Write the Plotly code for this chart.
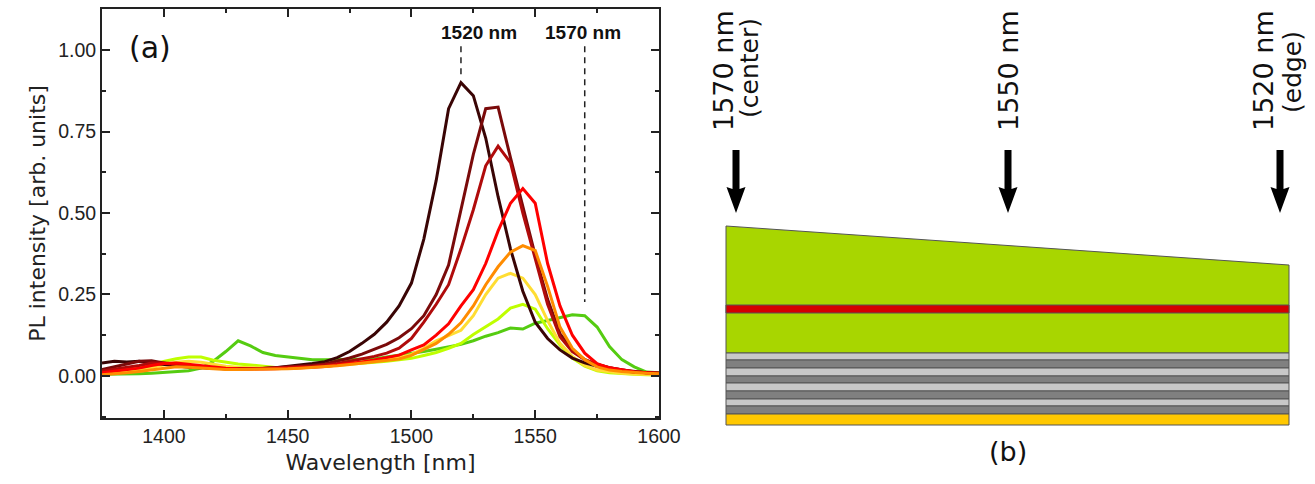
import plotly.graph_objects as go

wavelength = list(range(1375, 1605, 5))

pl_1520 = [.040,.045,.043,.045,.040,.035,.030,.027,.025,.023,.022,.022,.022,.023,.025,.029,.033,.038,.044,.056,.075,.100,.128,.165,.215,.285,.420,.600,.820,.900,.860,.730,.550,.390,.260,.165,.115,.080,.055,.040,.030,.022,.016,.012,.010,.008]
pl_1533 = [.020,.028,.035,.045,.047,.040,.033,.029,.026,.024,.022,.022,.022,.023,.025,.027,.030,.033,.037,.045,.055,.067,.082,.097,.117,.145,.185,.250,.340,.510,.680,.820,.825,.670,.520,.370,.235,.130,.080,.050,.035,.025,.018,.013,.010,.008]
pl_1537 = [.015,.020,.026,.032,.040,.040,.036,.031,.027,.024,.022,.022,.022,.023,.024,.026,.028,.030,.034,.038,.045,.052,.060,.070,.085,.115,.165,.220,.280,.390,.510,.645,.705,.655,.500,.360,.220,.120,.075,.050,.035,.025,.018,.013,.010,.008]
pl_1547 = [.010,.014,.018,.024,.032,.038,.040,.036,.030,.026,.024,.022,.021,.021,.022,.023,.025,.027,.029,.033,.038,.043,.049,.056,.064,.080,.095,.125,.160,.215,.265,.345,.445,.530,.575,.530,.345,.215,.125,.070,.038,.025,.018,.012,.010,.008]
pl_1546 = [.004,.006,.010,.014,.018,.024,.028,.027,.024,.022,.020,.020,.020,.020,.021,.022,.024,.026,.028,.031,.035,.039,.043,.048,.052,.063,.082,.100,.128,.163,.215,.280,.335,.380,.400,.385,.275,.150,.085,.050,.028,.018,.014,.010,.008,.007]
pl_1544 = [.006,.010,.014,.020,.026,.034,.042,.045,.042,.036,.030,.027,.025,.024,.023,.024,.026,.028,.030,.034,.038,.043,.048,.052,.056,.066,.085,.108,.125,.140,.185,.250,.300,.315,.300,.250,.170,.100,.060,.032,.018,.012,.008,.006,.005,.004]
pl_1547b = [.010,.015,.020,.028,.036,.045,.053,.058,.058,.048,.042,.037,.034,.030,.026,.025,.026,.028,.030,.033,.036,.038,.042,.045,.050,.054,.063,.072,.085,.100,.127,.150,.175,.208,.220,.205,.145,.095,.055,.030,.016,.010,.007,.005,.004,.003]
pl_1570 = [.005,.005,.006,.007,.008,.010,.012,.016,.024,.045,.075,.108,.092,.072,.063,.058,.054,.050,.050,.050,.050,.051,.052,.058,.063,.068,.075,.082,.090,.097,.108,.122,.133,.147,.144,.162,.170,.180,.188,.185,.150,.090,.050,.028,.012,.010]

spectra = [
    ("1570", pl_1570, "#55cc11"),
    ("1547b", pl_1547b, "#bfff00"),
    ("1544", pl_1544, "#ffdd33"),
    ("1520", pl_1520, "#3a0505"),
    ("1533", pl_1533, "#7a0a0a"),
    ("1537", pl_1537, "#b00b0b"),
    ("1547", pl_1547, "#ff0000"),
    ("1546", pl_1546, "#ff8c00"),
]

marker_wavelengths = [1520, 1570]
marker_tops = [1.012, 1.012]
marker_bottoms = [0.926, 0.227]
marker_labels = ["1520 nm", "1570 nm"]

y_ticks = [0, 0.25, 0.5, 0.75, 1.0]
y_tick_labels = ["0.00", "0.25", "0.50", "0.75", "1.00"]
x_ticks = [1400, 1450, 1500, 1550, 1600]

# Layer stack of the schematic (top edge, bottom edge, colour)
stack_left, stack_right = 726, 1289
wedge_top_left, wedge_top_right = 226, 265
stack_layers = [
    (305, 313, "#d40000"),
    (353, 360, "#c8c8c8"), (360, 368, "#808080"),
    (368, 376, "#c8c8c8"), (376, 383, "#808080"),
    (383, 391, "#c8c8c8"), (391, 399, "#808080"),
    (399, 406, "#c8c8c8"), (406, 414, "#808080"),
    (414, 425, "#ffc800"),
]
wedge_bottom = 353
arrow_centres = [736, 1008, 1280]
arrow_top, arrow_neck, arrow_tip = 150, 189, 213

W, H = 1315, 484
fig = go.Figure()

for name, vals, col in spectra:
    fig.add_trace(go.Scatter(x=wavelength, y=vals, mode="lines", name=name,
                             line=dict(color=col, width=3), showlegend=False,
                             xaxis="x", yaxis="y"))

for x, t, b in zip(marker_wavelengths, marker_tops, marker_bottoms):
    fig.add_trace(go.Scatter(x=[x, x], y=[t, b], mode="lines", showlegend=False,
                             line=dict(color="#222222", width=1.5, dash="6px,5px"),
                             xaxis="x", yaxis="y"))

def poly(xs, ys, col, lw=1, lc="#555555"):
    fig.add_trace(go.Scatter(x=xs, y=ys, mode="lines", fill="toself", fillcolor=col,
                             line=dict(color=lc, width=lw), showlegend=False,
                             xaxis="x2", yaxis="y2"))

poly([stack_left, stack_right, stack_right, stack_left, stack_left],
     [wedge_top_left, wedge_top_right, wedge_bottom, wedge_bottom, wedge_top_left], "#a8d600")
for top, bottom, col in stack_layers:
    poly([stack_left, stack_right, stack_right, stack_left, stack_left],
         [top, top, bottom, bottom, top], col)

for c in arrow_centres:
    poly([c - 3.5, c + 3.5, c + 3.5, c + 9.5, c, c - 9.5, c - 3.5, c - 3.5],
         [arrow_top, arrow_top, arrow_neck, arrow_neck - 2, arrow_tip, arrow_neck - 2, arrow_neck, arrow_top],
         "#000000", lw=0, lc="#000000")

ann = []
def label(x, y, text, size, family="DejaVu Sans", angle=0, bold=False, xref="x2", yref="y2"):
    t = f"<b>{text}</b>" if bold else text
    ann.append(dict(x=x, y=y, xref=xref, yref=yref, text=t, showarrow=False, textangle=angle,
                    xanchor="center", yanchor="middle",
                    font=dict(family=family, size=size, color="#111111")))

label(150, 47, "(a)", 30)
label(1008, 451, "(b)", 27)
label(479, 32, marker_labels[0], 19, family="Liberation Sans", bold=True)
label(583, 32, marker_labels[1], 19, family="Liberation Sans", bold=True)
label(723, 71, "1570 nm", 27, angle=-90)
label(749, 68, "(center)", 25, angle=-90)
label(1008, 71, "1550 nm", 27, angle=-90)
label(1263, 71, "1520 nm", 27, angle=-90)
label(1292, 72, "(edge)", 25, angle=-90)

axis_common = dict(showgrid=False, zeroline=False, showline=True, linecolor="#222222", linewidth=2,
                   ticks="inside", tickcolor="#222222", tickwidth=2, ticklen=8, mirror="ticks",
                   automargin=False,
                   tickfont=dict(family="Liberation Sans", size=19.5, color="#222222"))

fig.update_layout(
    width=W, height=H, margin=dict(l=0, r=0, t=0, b=0),
    paper_bgcolor="white", plot_bgcolor="rgba(0,0,0,0)",
    annotations=ann, showlegend=False,
    xaxis=dict(domain=[102 / W, 659 / W], range=[1375, 1600], anchor="y",
               tickmode="array", tickvals=x_ticks,
               minor=dict(tickmode="linear", tick0=1375, dtick=50, ticks="inside", ticklen=4,
                          tickwidth=2, tickcolor="#222222"),
               title=dict(text="Wavelength [nm]", standoff=8,
                          font=dict(family="DejaVu Sans", size=22, color="#222222")),
               **axis_common),
    yaxis=dict(domain=[1 - 418 / H, 1 - 9 / H], range=[-0.129, 1.126], anchor="x",
               tickmode="array", tickvals=y_ticks, ticktext=y_tick_labels,
               minor=dict(tickmode="linear", tick0=-0.125, dtick=0.25, ticks="inside", ticklen=4,
                          tickwidth=2, tickcolor="#222222"),
               title=dict(text="PL intensity [arb. units]", standoff=6,
                          font=dict(family="DejaVu Sans", size=22, color="#222222")),
               **axis_common),
    xaxis2=dict(domain=[0, 1], range=[0, W], visible=False, anchor="y2", fixedrange=True),
    yaxis2=dict(domain=[0, 1], range=[H, 0], visible=False, anchor="x2", fixedrange=True),
)

fig.write_html("out.html", config={"displayModeBar": False},
               post_script="document.body.style.margin='0';document.documentElement.style.overflow='hidden';")
